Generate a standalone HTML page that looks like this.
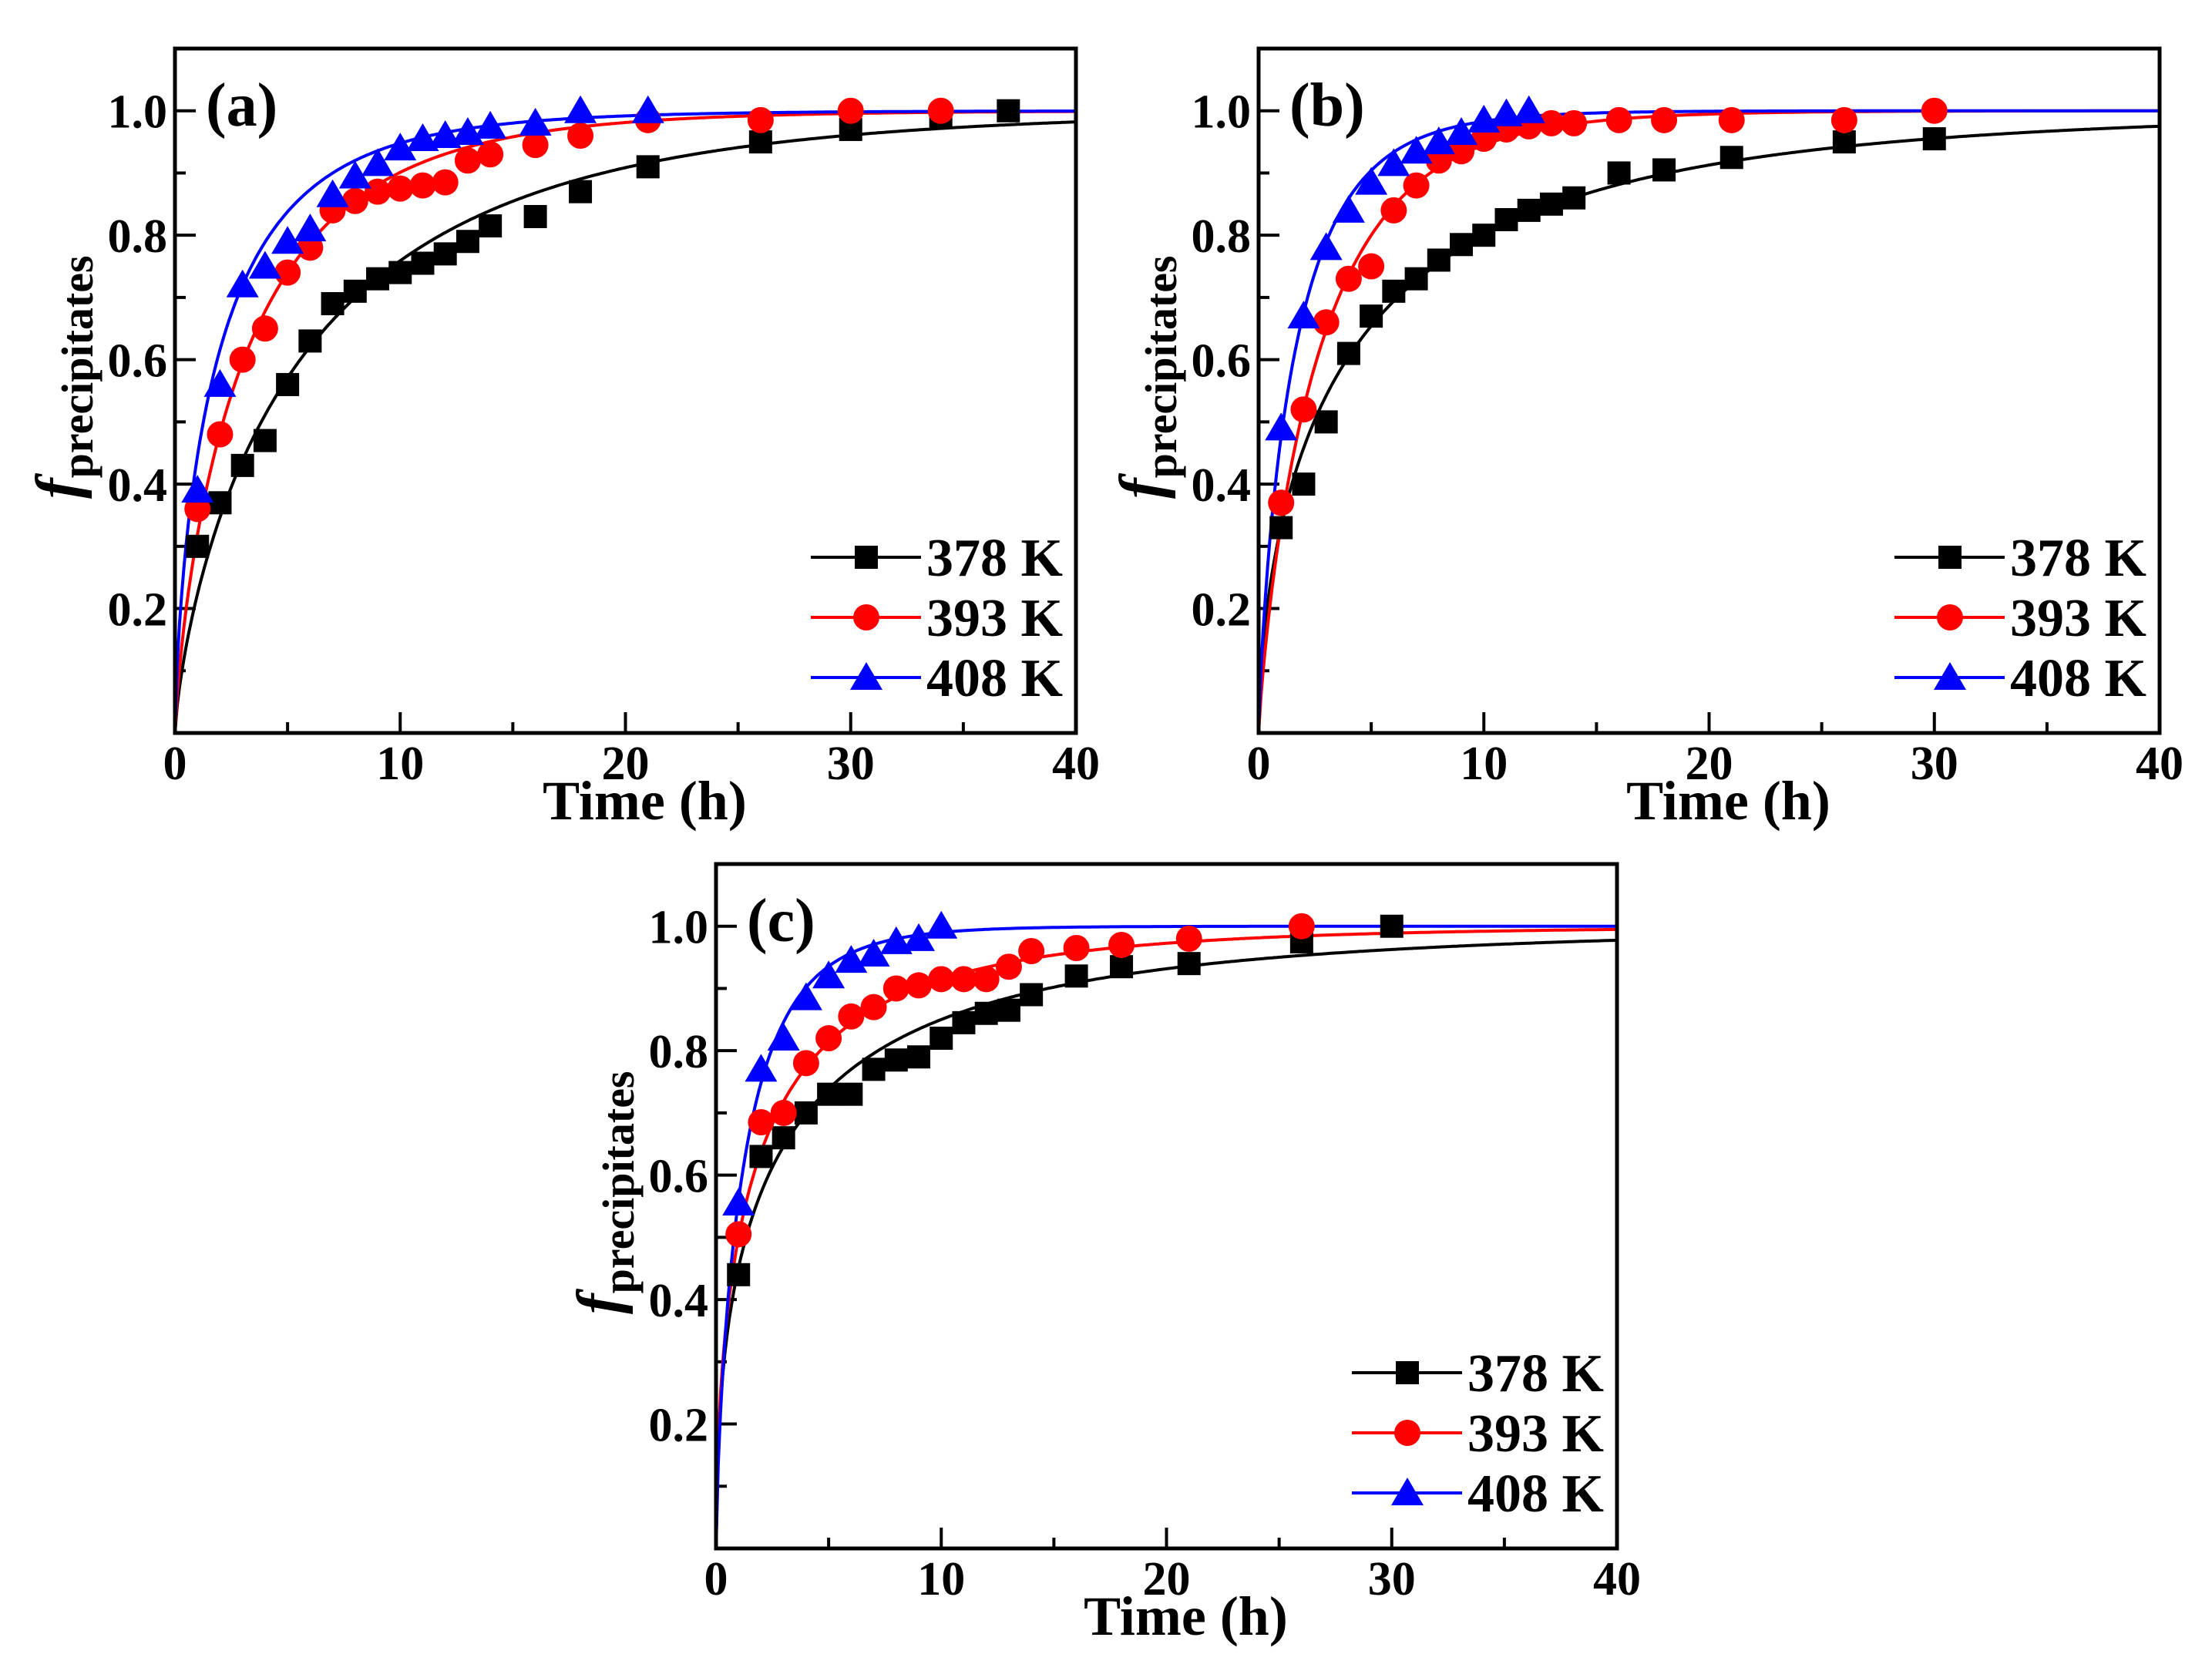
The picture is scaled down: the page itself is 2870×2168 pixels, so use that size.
<!DOCTYPE html>
<html>
<head>
<meta charset="utf-8">
<style>
html,body{margin:0;padding:0;background:#fff;}
svg{display:block;}
text{font-family:"Liberation Serif","Times New Roman",serif;font-weight:bold;fill:#000;}
</style>
</head>
<body>
<svg id="fig" width="2870" height="2168" viewBox="0 0 2870 2168" xmlns="http://www.w3.org/2000/svg"></svg>
<script>
// ---- data (time in h, fraction) ----
const timesA378 = [1,2,3,4,5,6,7,8,9,10,11,12,13,14,16,18,21,26,30,34,37];
const valsA378  = [.30,.37,.43,.47,.56,.63,.69,.71,.73,.74,.755,.77,.79,.815,.83,.87,.91,.95,.97,.99,1.0];
const timesA393 = [1,2,3,4,5,6,7,8,9,10,11,12,13,14,16,18,21,26,30,34];
const valsA393  = [.36,.48,.60,.65,.74,.78,.84,.855,.87,.875,.88,.885,.92,.93,.945,.96,.985,.985,1.0,1.0];
const timesA408 = [1,2,3,4,5,6,7,8,9,10,11,12,13,14,16,18,21];
const valsA408  = [.39,.56,.72,.75,.79,.81,.865,.895,.915,.94,.955,.96,.965,.975,.98,1.0,1.0];

const timesB378 = [1,2,3,4,5,6,7,8,9,10,11,12,13,14,16,18,21,26,30];
const valsB378  = [.33,.40,.50,.61,.67,.71,.73,.76,.785,.80,.825,.84,.85,.86,.90,.905,.925,.95,.955];
const timesB393 = [1,2,3,4,5,6,7,8,9,10,11,12,13,14,16,18,21,26,30];
const valsB393  = [.37,.52,.66,.73,.75,.84,.88,.92,.935,.955,.97,.975,.98,.98,.985,.985,.985,.985,1.0];
const timesB408 = [1,2,3,4,5,6,7,8,9,10,11,12];
const valsB408  = [.49,.67,.78,.84,.885,.915,.935,.95,.965,.985,.995,1.0];

const timesC378 = [1,2,3,4,5,6,7,8,9,10,11,12,13,14,16,18,21,26,30];
const valsC378  = [.44,.63,.66,.70,.73,.73,.77,.785,.79,.82,.845,.86,.865,.89,.92,.935,.94,.975,1.0];
const timesC393 = [1,2,3,4,5,6,7,8,9,10,11,12,13,14,16,18,21,26];
const valsC393  = [.505,.685,.70,.78,.82,.855,.87,.90,.905,.915,.915,.915,.935,.96,.965,.97,.98,1.0];
const timesC408 = [1,2,3,4,5,6,7,8,9,10];
const valsC408  = [.555,.77,.82,.885,.92,.945,.955,.975,.98,1.0];

// fitted Avrami parameters [k, n] per series
const fitA = [[0.16,0.75],[0.293,0.78],[0.47,0.7]];
const fitB = [[0.221,0.6],[0.35,0.85],[0.58,0.8]];
const fitC = [[0.36,0.5],[0.513,0.55],[0.768,0.75]];

const xTicks = [0,10,20,30,40];
const yTicks = [0.2,0.4,0.6,0.8,1.0];
const seriesLabels = ["378 K","393 K","408 K"];
const colors = ["#000","#f00","#00f"];
const markers = ["square","circle","triangle"];

const NS = "http://www.w3.org/2000/svg";
const svg = document.getElementById("fig");
function mk(tag, attrs, parent){
  const e = document.createElementNS(NS, tag);
  for (const k in attrs) e.setAttribute(k, attrs[k]);
  (parent||svg).appendChild(e);
  return e;
}
function marker(g, type, cx, cy, color){
  let e;
  if (type==="square") e = mk("rect",{x:cx-15,y:cy-15,width:30,height:30,fill:color},g);
  else if (type==="circle") e = mk("circle",{cx:cx,cy:cy,r:17,fill:color},g);
  else e = mk("polygon",{points:`${cx},${cy-20} ${cx+21},${cy+16} ${cx-21},${cy+16}`,fill:color},g);
  return e;
}

function panel(id, L, T, letter, times, vals, fits){
  const W = 1169, H = 888, R = L+W, B = T+H;
  const xS = v => L + v/40*W;
  const yS = v => B - v/1.1*H;
  const g = mk("g",{});
  
  

  for (let v=0; v<=40; v+=5){
    const len = v%10===0 ? 27 : 14;
    const t = mk("line",{x1:xS(v),x2:xS(v),y1:B,y2:B-len,stroke:"#000","stroke-width":4},g);
    
    
  }
  for (let i=1; i<=10; i++){
    const v = i/10, len = i%2===0 ? 27 : 14;
    const t = mk("line",{x1:L,x2:L+len,y1:yS(v),y2:yS(v),stroke:"#000","stroke-width":4},g);
    
    
  }
  xTicks.forEach(v=>{
    const t = mk("text",{x:xS(v),y:B+60,"font-size":62,"text-anchor":"middle"},g);
    t.textContent = v;
    
    
  });
  yTicks.forEach(v=>{
    const t = mk("text",{x:L-10,y:yS(v)+22,"font-size":62,"text-anchor":"end"},g);
    t.textContent = v.toFixed(1);
    
    
  });

  fits.forEach((p,si)=>{
    let d = "";
    for (let i=0;i<=400;i++){
      const t = i/10;
      const f = 1 - Math.exp(-Math.pow(p[0]*t, p[1]));
      d += (i?"L":"M") + xS(t).toFixed(1) + "," + yS(f).toFixed(1);
    }
    const c = mk("path",{d:d,fill:"none",stroke:colors[si],"stroke-width":4},g);
    
    
  });
  times.forEach((ts,si)=>{
    ts.forEach((t,i)=>{
      const m = marker(g, markers[si], xS(t), yS(vals[si][i]), colors[si]);
      
      
    });
  });

  const fr = mk("rect",{x:L,y:T,width:W,height:H,fill:"none",stroke:"#000","stroke-width":5},g);
  
  

  const lt = mk("text",{x:L+40,y:T+100,"font-size":80},g);
  lt.textContent = "("+letter+")";
  
  

  const lg = mk("g",{},g);
  
  
  seriesLabels.forEach((s,si)=>{
    const ly = T+660+si*78;
    const e = mk("g",{},lg);
    
    
    mk("line",{x1:R-344,x2:R-201,y1:ly,y2:ly,stroke:colors[si],"stroke-width":4},e);
    marker(e, markers[si], R-272, ly, colors[si]);
    const tx = mk("text",{x:R-194,y:ly+24,"font-size":70},e);
    tx.textContent = s;
  });

  const xt = mk("text",{x:L+W/2+25,y:B+112,"font-size":72,"text-anchor":"middle"},g);
  xt.textContent = "Time (h)";
  
  
  const cy = T+H*0.48, cx = L-125;
  const yt = mk("text",{x:cx,y:cy,"font-size":72,"text-anchor":"middle",transform:`rotate(-90 ${cx} ${cy})`},g);
  yt.innerHTML = '<tspan font-style="italic" font-size="80">f</tspan><tspan font-size="58" dy="18">precipitates</tspan>';
  
  
}

panel("a", 227, 63, "a", [timesA378,timesA393,timesA408], [valsA378,valsA393,valsA408], fitA);
panel("b", 1633, 63, "b", [timesB378,timesB393,timesB408], [valsB378,valsB393,valsB408], fitB);
panel("c", 929, 1121, "c", [timesC378,timesC393,timesC408], [valsC378,valsC393,valsC408], fitC);
</script>
</body>
</html>
